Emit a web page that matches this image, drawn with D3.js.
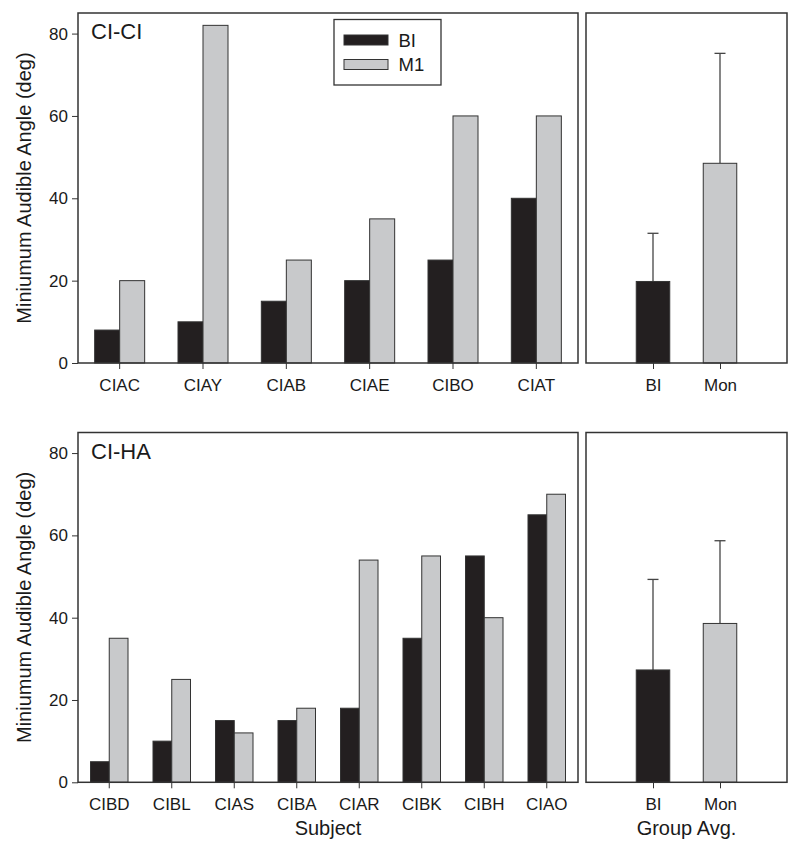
<!DOCTYPE html>
<html><head><meta charset="utf-8">
<script src="https://cdn.jsdelivr.net/npm/d3@7"></script>
<style>body{margin:0;background:#fff}svg{display:block}text{font-family:"Liberation Sans",Arial,sans-serif;fill:#1a1a1a}</style>
</head><body>
<svg id="c" width="800" height="848"></svg>
<script>
// ---- data ----
const series = ["BI", "M1"];
const topSubjects = ["CIAC", "CIAY", "CIAB", "CIAE", "CIBO", "CIAT"];
const topBI = [8, 10, 15, 20, 25, 40];
const topM1 = [20, 82, 25, 35, 60, 60];
const botSubjects = ["CIBD", "CIBL", "CIAS", "CIBA", "CIAR", "CIBK", "CIBH", "CIAO"];
const botBI = [5, 10, 15, 15, 18, 35, 55, 65];
const botM1 = [35, 25, 12, 18, 54, 55, 40, 70];
const groupCats = ["BI", "Mon"];
const topGroupMean = [19.8, 48.5];
const topGroupErr = [31.5, 75.2];
const botGroupMean = [27.3, 38.6];
const botGroupErr = [49.3, 58.7];
const yTicks = [0, 20, 40, 60, 80];
const panelLabels = ["CI-CI", "CI-HA"];

const colors = {BI: "#231f20", M1: "#c8c9cb", Mon: "#c8c9cb"};
const frameColor = "#333";
const FONT = "Liberation Sans, Arial, sans-serif";
const svg = d3.select("#c");

const L = {x0: 78, x1: 578}, R = {x0: 586, x1: 787};

function styleAxis(a) {
  a.select(".domain").remove();
  a.selectAll("text").attr("font-size", 17).attr("font-family", FONT).attr("fill", "#1a1a1a");
  a.selectAll("line").attr("stroke", frameColor);
}

function drawRow(top, bottom, subjects, bi, m1, gMean, gErr, label, showXTitle, showLegend) {
  const y = d3.scaleLinear().domain([0, 85]).range([bottom, top]);
  const x = d3.scaleBand().domain(subjects).range([L.x0, L.x1]).padding(0);
  const xs = d3.scaleBand().domain(series).range([x.bandwidth() * 0.2, x.bandwidth() * 0.8]).padding(0);
  const g = svg.append("g");
  const rows = subjects.map((s, i) => ({s, BI: bi[i], M1: m1[i]}));
  series.forEach(k => {
    g.selectAll(null).data(rows).join("rect")
      .attr("x", d => x(d.s) + xs(k)).attr("width", xs.bandwidth())
      .attr("y", d => y(d[k])).attr("height", d => y(0) - y(d[k]))
      .attr("fill", colors[k]).attr("stroke", "#333").attr("stroke-width", 1);
  });
  g.append("rect").attr("x", L.x0).attr("y", top).attr("width", L.x1 - L.x0).attr("height", bottom - top)
    .attr("fill", "none").attr("stroke", frameColor).attr("stroke-width", 1.5);
  const ya = g.append("g").attr("transform", `translate(${L.x0},0)`)
    .call(d3.axisLeft(y).tickValues(yTicks).tickSize(6).tickPadding(4));
  styleAxis(ya);
  const xa = g.append("g").attr("transform", `translate(0,${bottom})`)
    .call(d3.axisBottom(x).tickSize(6).tickPadding(10));
  styleAxis(xa);
  g.append("text").attr("x", 91).attr("y", top + 26).attr("font-size", 22).text(label);
  g.append("text").attr("transform", `translate(31,${(top + bottom) / 2}) rotate(-90)`)
    .attr("text-anchor", "middle").attr("font-size", 20).text("Miniumum Audible Angle (deg)");

  // group panel
  const xp = d3.scalePoint().domain(groupCats).range([R.x0, R.x1]).padding(1);
  const bw = xp.step() * 0.5;
  const grows = groupCats.map((c, i) => ({c, m: gMean[i], e: gErr[i]}));
  g.selectAll(null).data(grows).join("line")
    .attr("x1", d => xp(d.c)).attr("x2", d => xp(d.c)).attr("y1", d => y(d.m)).attr("y2", d => y(d.e))
    .attr("stroke", "#444").attr("stroke-width", 1.3);
  g.selectAll(null).data(grows).join("line")
    .attr("x1", d => xp(d.c) - 5.5).attr("x2", d => xp(d.c) + 5.5).attr("y1", d => y(d.e)).attr("y2", d => y(d.e))
    .attr("stroke", "#444").attr("stroke-width", 1.3);
  g.selectAll(null).data(grows).join("rect")
    .attr("x", d => xp(d.c) - bw / 2).attr("width", bw)
    .attr("y", d => y(d.m)).attr("height", d => y(0) - y(d.m))
    .attr("fill", d => colors[d.c]).attr("stroke", "#333").attr("stroke-width", 1);
  g.append("rect").attr("x", R.x0).attr("y", top).attr("width", R.x1 - R.x0).attr("height", bottom - top)
    .attr("fill", "none").attr("stroke", frameColor).attr("stroke-width", 1.5);
  const xpa = g.append("g").attr("transform", `translate(0,${bottom})`)
    .call(d3.axisBottom(xp).tickSize(6).tickPadding(10));
  styleAxis(xpa);

  if (showXTitle) {
    g.append("text").attr("x", (L.x0 + L.x1) / 2).attr("y", 835).attr("text-anchor", "middle").attr("font-size", 20).text("Subject");
    g.append("text").attr("x", (R.x0 + R.x1) / 2).attr("y", 835).attr("text-anchor", "middle").attr("font-size", 20).text("Group Avg.");
  }
  if (showLegend) {
    const lg = g.append("g");
    lg.append("rect").attr("x", 334).attr("y", 19.5).attr("width", 107).attr("height", 65.5)
      .attr("fill", "#fff").attr("stroke", frameColor).attr("stroke-width", 1.3);
    series.forEach((k, i) => {
      lg.append("rect").attr("x", 344).attr("y", 35 + i * 24.5).attr("width", 44).attr("height", 10)
        .attr("fill", colors[k]).attr("stroke", "#333").attr("stroke-width", 1);
      lg.append("text").attr("x", 398.5).attr("y", 46.5 + i * 24.5).attr("font-size", 18.5).text(k);
    });
  }
}

drawRow(13, 363, topSubjects, topBI, topM1, topGroupMean, topGroupErr, panelLabels[0], false, true);
drawRow(432.5, 782.3, botSubjects, botBI, botM1, botGroupMean, botGroupErr, panelLabels[1], true, false);
</script>
</body></html>
